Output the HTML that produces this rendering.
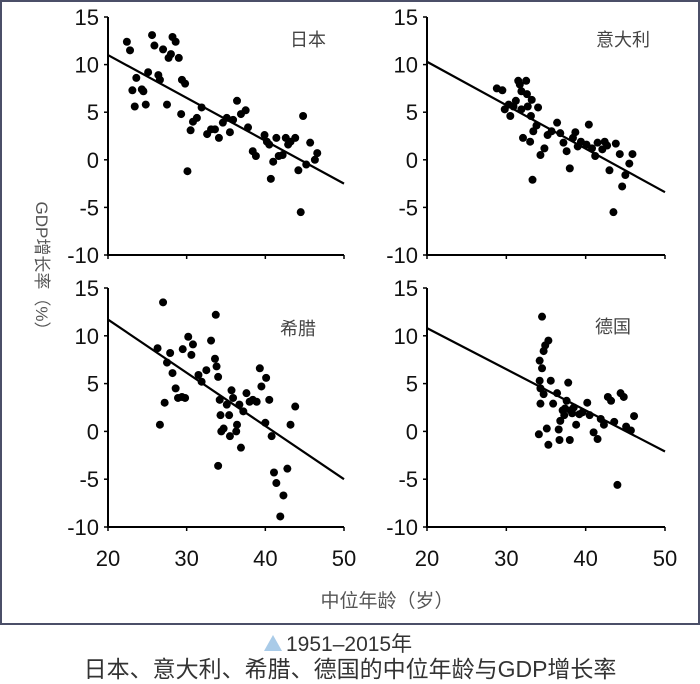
<!DOCTYPE html>
<html><head><meta charset="utf-8">
<style>
html,body{margin:0;padding:0;background:#fff;}
#wrap{position:relative;width:700px;height:684px;overflow:hidden;font-family:"Liberation Sans","Noto Sans CJK SC",sans-serif;}
</style></head>
<body>
<div id="wrap">
<svg id="chart" width="700" height="684" xmlns="http://www.w3.org/2000/svg">
<rect x="1" y="1" width="698" height="623" fill="#fff" stroke="#4b4f68" stroke-width="2"/>
<text x="36" y="270" transform="rotate(90 36 270)" text-anchor="middle" font-size="17" fill="#555" font-family="Liberation Sans, Noto Sans CJK SC, sans-serif">GDP增长率（%）</text>
<text x="387" y="607" text-anchor="middle" font-size="19" fill="#555" font-family="Liberation Sans, Noto Sans CJK SC, sans-serif">中位年龄（岁）</text>
<polygon points="264,651 273,635 282,651" fill="#a9cbe8"/>
<text x="286" y="651" font-size="21" fill="#333" font-family="Liberation Sans, Noto Sans CJK SC, sans-serif">1951–2015年</text>
<text x="350" y="677" text-anchor="middle" font-size="23" fill="#333" font-family="Liberation Sans, Noto Sans CJK SC, sans-serif">日本、意大利、希腊、德国的中位年龄与GDP增长率</text>
</svg>
</div>
<script>
const xTicks = [20, 30, 40, 50];
const yTicks = [15, 10, 5, 0, -5, -10];
const panelNames = ["日本", "意大利", "希腊", "德国"];
const trendStart = [11.0, 10.3, 11.7, 10.8];
const trendEnd = [-2.5, -3.4, -5.0, -2.1];
const japanAge = [22.4,22.8,23.6,23.1,24.3,24.5,23.4,24.8,25.6,25.9,25.1,26.4,26.6,27.0,27.5,27.7,28.0,28.2,28.6,29.0,29.3,29.4,29.8,30.1,30.5,30.8,31.3,31.9,32.6,33.1,33.6,34.1,34.6,35.1,35.5,35.9,36.4,36.9,37.5,37.8,38.4,38.8,39.9,40.2,40.5,40.7,41.0,41.4,41.7,42.2,42.6,42.9,43.2,43.8,44.2,44.5,44.8,45.2,45.7,46.3,46.6];
const japanGdp = [12.4,11.5,8.6,7.3,7.4,7.2,5.6,5.8,13.1,12.0,9.2,8.9,8.4,11.6,5.8,10.7,11.1,12.9,12.4,10.7,4.8,8.4,8.0,-1.2,3.1,4.0,4.4,5.5,2.7,3.2,3.2,2.3,3.9,4.4,2.9,4.2,6.2,4.8,5.2,3.4,0.9,0.4,2.6,1.9,1.6,-2.0,-0.2,2.3,0.4,0.5,2.3,1.6,1.9,2.3,-1.1,-5.5,4.6,-0.5,1.8,0.0,0.7];
const italyAge = [28.8,29.5,29.8,30.3,30.5,30.9,31.2,31.5,31.7,31.9,32.1,31.9,32.5,32.6,32.7,33.1,33.0,33.3,33.2,33.4,33.8,34.0,34.3,34.8,35.2,35.7,36.4,36.8,37.2,37.6,38.0,38.4,38.7,39.0,39.4,40.1,40.4,40.8,41.2,41.5,42.1,42.4,42.7,43.0,43.5,43.8,44.3,44.6,45.0,45.5,45.9];
const italyGdp = [7.5,7.3,5.3,5.8,4.6,5.6,6.2,8.3,7.9,5.3,2.3,7.2,8.3,6.9,5.6,4.6,1.9,-2.1,6.3,3.0,3.6,5.5,0.5,1.2,2.6,3.0,3.9,2.8,1.8,0.9,-0.9,2.3,2.9,1.4,1.9,1.6,3.7,1.2,0.4,1.8,1.1,1.9,1.5,-1.1,-5.5,1.7,0.6,-2.8,-1.6,-0.4,0.6];
const greeceAge = [27.0,26.3,26.6,27.2,27.5,27.9,28.2,28.6,28.9,29.4,29.5,29.8,30.2,30.6,30.8,31.5,31.9,32.5,33.1,33.6,33.7,33.8,34.0,34.0,34.2,34.3,34.4,34.7,35.1,35.4,35.5,35.7,35.9,36.3,36.4,36.7,36.9,37.2,37.6,38.0,38.4,38.9,39.3,39.5,40.0,40.1,40.5,40.8,41.1,41.4,41.9,42.3,42.8,43.2,43.8];
const greeceGdp = [13.5,8.7,0.7,3.0,7.2,8.2,6.1,4.5,3.5,3.6,8.6,3.5,9.9,8.0,9.1,5.9,5.2,6.4,9.5,7.6,12.2,6.8,5.7,-3.6,3.3,1.7,0.0,0.3,2.8,1.7,-0.5,4.3,3.5,0.0,0.7,2.8,-1.7,2.1,4.0,3.1,3.3,3.1,6.6,4.7,0.9,5.6,3.3,-0.5,-4.3,-5.4,-8.9,-6.7,-3.9,0.7,2.6];
const germanyAge = [34.5,35.3,34.9,34.7,34.2,34.5,34.2,34.3,34.7,34.3,34.1,35.1,35.3,35.6,35.9,36.4,36.6,36.7,36.8,37.1,37.3,37.6,37.8,38.0,38.1,38.5,38.8,39.2,40.2,40.5,41.0,41.5,41.9,42.3,42.8,43.2,43.6,44.0,44.4,44.8,45.1,45.7,46.1,37.4,38.3,39.6];
const germanyGdp = [12.0,9.5,9.0,8.4,7.4,6.6,5.3,4.5,3.9,2.9,-0.3,0.3,-1.4,5.3,2.9,4.0,0.2,-0.9,1.1,2.2,1.7,3.2,5.1,-0.9,2.2,2.5,0.7,1.8,3.0,1.7,-0.1,-0.8,1.3,0.7,3.6,3.2,1.0,-5.6,4.0,3.6,0.5,0.1,1.6,2.4,1.9,2.0];
const panelAges = [japanAge, italyAge, greeceAge, germanyAge];
const panelGdps = [japanGdp, italyGdp, greeceGdp, germanyGdp];
const panelKeys = ["japan", "italy", "greece", "germany"];

const NS = "http://www.w3.org/2000/svg";
const svg = document.getElementById("chart");
const layouts = [
  {x0:108, x1:344, y15:17, ym10:255, tx:290, ty:46},
  {x0:427, x1:665, y15:17, ym10:255, tx:650, ty:46, anchorEnd:true},
  {x0:108, x1:344, y15:288, ym10:527, tx:280, ty:335},
  {x0:427, x1:665, y15:288, ym10:527, tx:595, ty:333}
];
function mk(tag, attrs) {
  const e = document.createElementNS(NS, tag);
  for (const k in attrs) e.setAttribute(k, attrs[k]);
  svg.appendChild(e);
  return e;
}
layouts.forEach((L, p) => {
  const key = panelKeys[p];
  const sx = v => L.x0 + (v - 20) / 30 * (L.x1 - L.x0);
  const sy = v => L.y15 + (15 - v) / 25 * (L.ym10 - L.y15);
  const ax = mk("path", {d:`M${L.x0},${L.y15} V${L.ym10} H${L.x1}`, fill:"none", stroke:"#000", "stroke-width":2});
  
  
  yTicks.forEach(t => {
    const tk = mk("line", {x1:L.x0-4, x2:L.x0, y1:sy(t), y2:sy(t), stroke:"#000", "stroke-width":1.5});
    
    
    const lb = mk("text", {x:L.x0-9, y:sy(t)+8, "text-anchor":"end", "font-size":22, fill:"#111"});
    lb.textContent = t;
    
    
  });
  xTicks.forEach(t => {
    const tk = mk("line", {x1:sx(t), x2:sx(t), y1:L.ym10, y2:L.ym10+4, stroke:"#000", "stroke-width":1.5});
    
    
    if (p >= 2) {
      const lb = mk("text", {x:sx(t), y:L.ym10+39, "text-anchor":"middle", "font-size":22, fill:"#111"});
      lb.textContent = t;
      
      
    }
  });
  const tr = mk("line", {x1:sx(20), y1:sy(trendStart[p]), x2:sx(50), y2:sy(trendEnd[p]), stroke:"#000", "stroke-width":2.2});
  
  
  const ages = panelAges[p], gdps = panelGdps[p];
  ages.forEach((a, i) => {
    const c = mk("circle", {cx:sx(a), cy:sy(gdps[i]), r:4, fill:"#000"});
    
    
  });
  const tt = mk("text", {x:L.tx, y:L.ty, "font-size":18, fill:"#444", "text-anchor": L.anchorEnd ? "end" : "start"});
  tt.textContent = panelNames[p];
  
  
});
</script>
</body></html>
